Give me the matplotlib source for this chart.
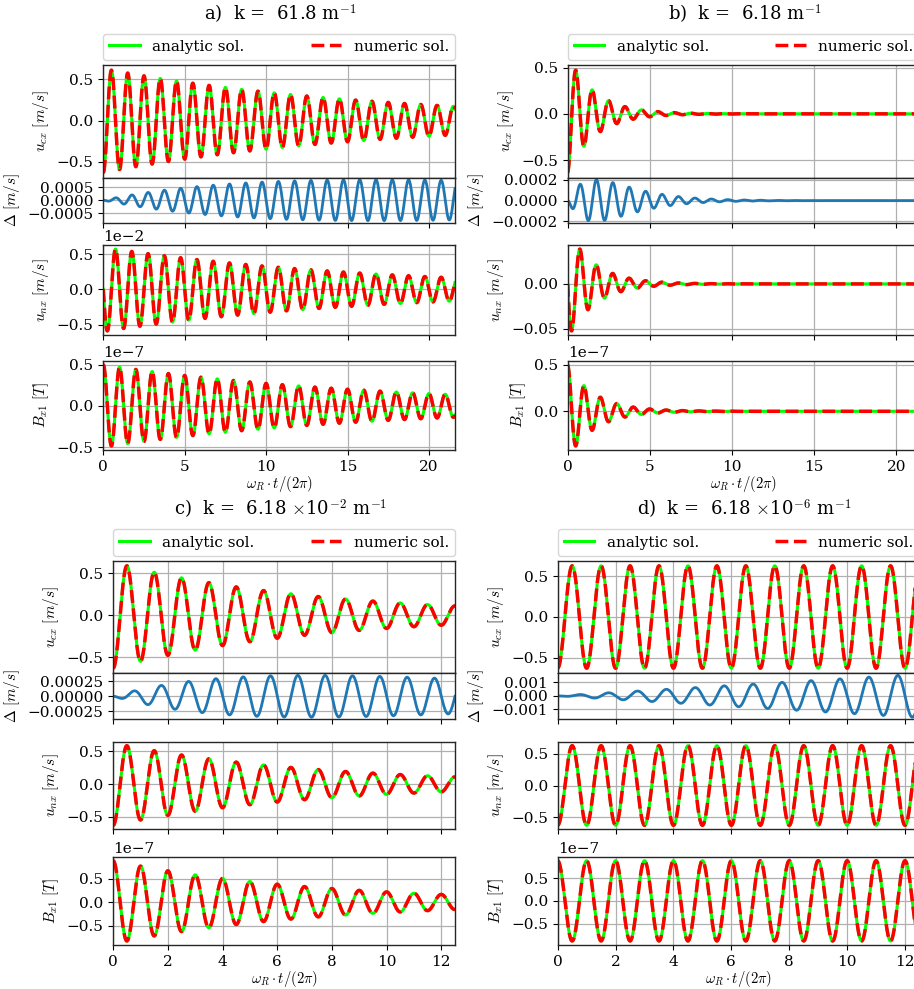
"""
Damped oscillation of the coupled two-fluid system: analytic vs numeric
solution for four wavenumbers, with the velocity difference Delta shown
under each u_cx trace.
"""

import matplotlib.pyplot as plt
import numpy as np
from matplotlib.ticker import FixedLocator, MultipleLocator

plt.rcParams.update({
    "font.family": "serif",
    "font.serif": ["DejaVu Serif"],
    "mathtext.fontset": "cm",
    "font.size": 11,
    "axes.edgecolor": "0.15",
    "axes.linewidth": 1.0,
})

# panel labels and wavenumbers
panel_tags = ["a)", "b)", "c)", "d)"]
k_mantissa = ["61.8", "6.18", "6.18", "6.18"]
k_exponent = [None, None, -2, -6]
t_max = [21.6, 21.4, 12.5, 12.5]

# oscillation parameters per panel (time in units of the wave period)
decay = [0.06, 0.6, 0.139, 0.0]
u_cx_amp = [0.63, 0.635, 0.63, 0.625]
u_nx_amp = [0.006, 0.0605, 0.63, 0.625]
u_nx_lag = [0.25, 0.25, 0.0, 0.0]
b_x1_amp = [0.5e-7, 0.5e-7, 0.88e-7, 0.88e-7]
delta_amp = [0.00013, 0.00033, 0.000132, 0.00013]

# y ticks of each row
u_cx_ticks = [[-0.5, 0.0, 0.5]] * 4
delta_ticks = [[-0.0005, 0.0, 0.0005], [-0.0002, 0.0, 0.0002],
               [-0.00025, 0.0, 0.00025], [-0.001, 0.0, 0.001]]
u_nx_ticks = [[-0.005, 0.0, 0.005], [-0.05, 0.0, 0.05],
              [-0.5, 0.0, 0.5], [-0.5, 0.0, 0.5]]
u_nx_sci = [-2, None, None, None]
b_ticks = [[-0.5e-7, 0.0, 0.5e-7]] * 4
x_step = [5, 5, 2, 2]

W, H = 914, 989
columns = [(103.3, 455.0), (567.7, 919.5), (113.3, 455.0), (557.7, 919.5)]
rows_top = [(65, 177.7), (177.7, 222.7), (245, 335), (360.7, 450)]
rows_bot = [(560.7, 673.3), (673.3, 719.3), (741.7, 829.3), (856.7, 945)]
title_xy = [(280.6, 14), (744.8, 14), (280.6, 509), (744.8, 509)]

GREEN, RED = "#00ff00", "#ff0000"


def add_px_axes(fig, left, right, top, bottom, **kw):
    return fig.add_axes([left / W, 1 - bottom / H,
                         (right - left) / W, (bottom - top) / H], **kw)


fig = plt.figure(figsize=(W / 100, H / 100), dpi=100)

for p in range(4):
    t = np.linspace(0, t_max[p], 3000)
    env = np.exp(-decay[p] * t)
    ph = 2 * np.pi * t
    u_cx = -u_cx_amp[p] * env * np.cos(ph)
    u_nx = -u_nx_amp[p] * env * np.cos(ph - 2 * np.pi * u_nx_lag[p])
    b_x1 = b_x1_amp[p] * env * np.cos(ph)
    delta = -delta_amp[p] * t * env * np.sin(ph)

    left, right = columns[p]
    rows = rows_top if p < 2 else rows_bot
    axs = []
    for i, (top, bottom) in enumerate(rows):
        ax = add_px_axes(fig, left, right, top, bottom,
                         sharex=axs[0] if axs else None)
        axs.append(ax)
    ax_c, ax_d, ax_n, ax_b = axs

    for ax, y in ((ax_c, u_cx), (ax_n, u_nx), (ax_b, b_x1)):
        ax.plot(t, y, color=GREEN, lw=2.2, label="analytic sol.")
        ax.plot(t, y, color=RED, lw=2.5, ls="--", label="numeric sol.")
    ax_d.plot(t, delta, color="tab:blue", lw=2.0)

    ax_c.set_ylabel(r"$u_{cx}\ [m/s]$")
    ax_d.set_ylabel(r"$\Delta\ [m/s]$")
    ax_n.set_ylabel(r"$u_{nx}\ [m/s]$")
    ax_b.set_ylabel(r"$B_{x1}\ [T]$")
    ax_b.set_xlabel(r"$\omega_R \cdot t/(2\pi)$", fontsize=10.5, labelpad=0)

    ax_c.yaxis.set_major_locator(FixedLocator(u_cx_ticks[p]))
    ax_d.yaxis.set_major_locator(FixedLocator(delta_ticks[p]))
    ax_n.yaxis.set_major_locator(FixedLocator(u_nx_ticks[p]))
    ax_b.yaxis.set_major_locator(FixedLocator(b_ticks[p]))
    if u_nx_sci[p] is not None:
        ax_n.ticklabel_format(axis="y", style="sci",
                              scilimits=(u_nx_sci[p], u_nx_sci[p]))
    ax_b.ticklabel_format(axis="y", style="sci", scilimits=(-7, -7))

    ax_b.set_xlim(0, t_max[p])
    ax_b.xaxis.set_major_locator(MultipleLocator(x_step[p]))
    for ax in axs:
        ax.grid(True, color="#b0b0b0", lw=0.9)
        if ax is not ax_b:
            ax.tick_params(labelbottom=False)

    ax_c.legend(loc="lower left", bbox_to_anchor=(0.0, 1.045, 1.0, 0.2),
                mode="expand", ncol=2, borderaxespad=0.0)

    k_txt = k_mantissa[p]
    if k_exponent[p] is not None:
        k_txt += r" $\times$10$^{%d}$" % k_exponent[p]
    tx, ty = title_xy[p]
    fig.text(tx / W, 1 - ty / H, f"{panel_tags[p]}  k =  {k_txt} m$^{{-1}}$",
             ha="center", va="center", fontsize=13)

fig.savefig("out.png", dpi=100)
